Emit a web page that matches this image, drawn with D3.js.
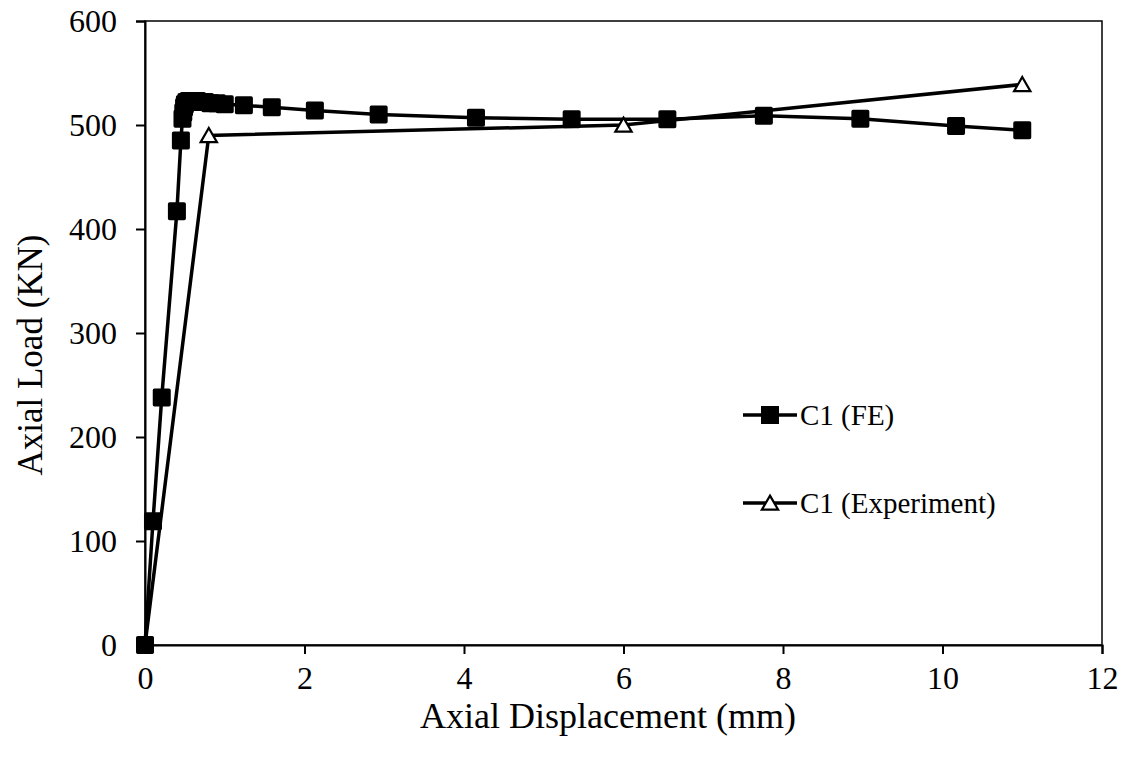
<!DOCTYPE html>
<html><head><meta charset="utf-8">
<script src="https://cdn.jsdelivr.net/npm/d3@7"></script>
<style>body{margin:0;background:#fff}svg{display:block}text{font-family:"Liberation Serif","Times New Roman",serif;fill:#000}</style>
</head><body><svg id="c" width="1127" height="759"></svg>
<script>
const feX = [0,0.1,0.21,0.4,0.45,0.47,0.48,0.49,0.5,0.52,0.55,0.6,0.65,0.7,0.75,0.82,0.9,1.0,1.24,1.59,2.13,2.93,4.15,5.35,6.55,7.76,8.97,10.17,11.0];
const feY = [0,119,238,417,485,506,512,517,520,522,523,523,523,522,522,521,521,520,519,517,514,510,507,505.5,505.5,509,506,499,495];
const expX = [0,0.8,6.0,11.0];
const expY = [0,490,500,539];
const xTicks = [0,2,4,6,8,10,12];
const yTicks = [0,100,200,300,400,500,600];
const seriesNames = ["C1 (FE)","C1 (Experiment)"];

const svg = d3.select("#c");
const x = d3.scaleLinear().domain([0,12]).range([145,1102]);
const y = d3.scaleLinear().domain([0,600]).range([645,21]);
const fsTick = 32, fsTitle = 35, fsLeg = 29;

svg.append("rect").attr("x",145).attr("y",21).attr("width",1102-145).attr("height",645-21)
  .attr("fill","none").attr("stroke","#000").attr("stroke-width",1.5);

const xa = svg.append("g").attr("transform","translate(0,645)")
  .call(d3.axisBottom(x).tickValues(xTicks).tickSize(9).tickPadding(12).tickFormat(d3.format("d")));
const ya = svg.append("g").attr("transform","translate(145,0)")
  .call(d3.axisLeft(y).tickValues(yTicks).tickSize(9).tickPadding(19).tickFormat(d3.format("d")));
[xa,ya].forEach(a=>{
  a.select(".domain").attr("stroke","#000").attr("stroke-width",2);
  a.selectAll(".tick line").attr("stroke","#000").attr("stroke-width",2);
  a.selectAll(".tick text").attr("font-size",fsTick).attr("font-family","Liberation Serif");
});
xa.selectAll(".tick text").attr("dy","0.71em");

svg.append("text").attr("x",608).attr("y",728).attr("text-anchor","middle").attr("font-size",36).text("Axial Displacement (mm)");
svg.append("text").attr("transform","translate(42,355) rotate(-90)").attr("text-anchor","middle").attr("font-size",fsTitle).text("Axial Load (KN)");

const line = d3.line().x(d=>x(d[0])).y(d=>y(d[1]));
const fe = feX.map((v,i)=>[v,feY[i]]);
const ex = expX.map((v,i)=>[v,expY[i]]);

svg.append("path").datum(ex).attr("d",line).attr("fill","none").attr("stroke","#000").attr("stroke-width",3.5);
svg.append("path").datum(fe).attr("d",line).attr("fill","none").attr("stroke","#000").attr("stroke-width",3.5);

const sq = 16.5;
svg.append("g").selectAll("rect").data(fe).join("rect")
  .attr("x",d=>x(d[0])-sq/2).attr("y",d=>y(d[1])-sq/2).attr("width",sq).attr("height",sq)
  .attr("fill","#000").attr("stroke","#000").attr("stroke-width",1.5).attr("rx",1);

const tri = d3.symbol().type(d3.symbolTriangle).size(115);
svg.append("g").selectAll("path").data(ex.slice(1)).join("path")
  .attr("d",tri).attr("transform",d=>`translate(${x(d[0])},${y(d[1])+2})`)
  .attr("fill","#fff").attr("stroke","#000").attr("stroke-width",2.2);

const lg = svg.append("g");
[[415,0],[503,1]].forEach(([ly,i])=>{
  lg.append("line").attr("x1",743).attr("x2",797).attr("y1",ly).attr("y2",ly).attr("stroke","#000").attr("stroke-width",3.5);
  if(i===0){
    lg.append("rect").attr("x",770-sq/2).attr("y",ly-sq/2).attr("width",sq).attr("height",sq).attr("fill","#000").attr("stroke","#000").attr("stroke-width",1.5);
  } else {
    lg.append("path").attr("d",tri).attr("transform",`translate(770,${ly+2})`).attr("fill","#fff").attr("stroke","#000").attr("stroke-width",2.2);
  }
  lg.append("text").attr("x",800).attr("y",ly+10).attr("font-size",fsLeg).text(seriesNames[i]);
});
</script></body></html>
